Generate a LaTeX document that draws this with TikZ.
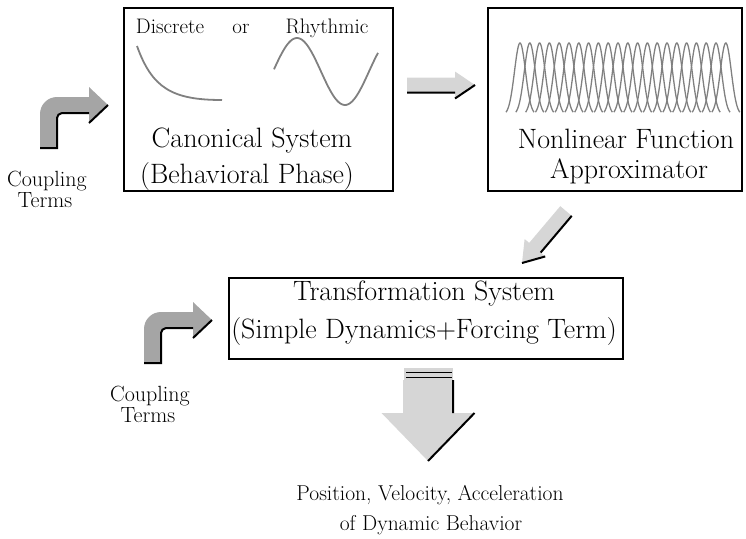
\documentclass[tikz,border=0pt]{standalone}
\usetikzlibrary{calc}
\definecolor{curvegray}{RGB}{128,128,128}
\definecolor{cplgray}{RGB}{165,165,165}
\definecolor{lightarrow}{RGB}{214,214,214}
\newcommand\blkarrow[8]{%
  \coordinate (ba-hb) at ($(#2)!#5!(#1)$);
  \coordinate (ba-t1) at ($(#1)!#3!#6:(#2)$);
  \coordinate (ba-t2) at ($(#1)!#3!#7:(#2)$);
  \coordinate (ba-b1) at ($(ba-hb)!#3!#6:(#2)$);
  \coordinate (ba-b2) at ($(ba-hb)!#3!#7:(#2)$);
  \coordinate (ba-h1) at ($(ba-hb)!#4!#6:(#2)$);
  \coordinate (ba-h2) at ($(ba-hb)!#4!#7:(#2)$);
  \fill[#8] (ba-t1) -- (ba-b1) -- (ba-h1) -- (#2) -- (ba-h2) -- (ba-b2) -- (ba-t2) -- cycle;
  \draw[shade] (ba-t1) -- (ba-b1) (ba-h1) -- (#2);
}
\begin{document}
\begin{tikzpicture}[x=1pt,y=-1pt,
  box/.style={draw=black, line width=2.4pt, inner sep=0pt, anchor=north west},
  lbl/.style={anchor=base, inner sep=0pt, font=\fontsize{28}{32}\selectfont},
  bottomlbl/.style={anchor=base, inner sep=0pt, font=\fontsize{21.5}{26}\selectfont},
  small/.style={anchor=base, inner sep=0pt, font=\fontsize{21}{24}\selectfont},
  cpl/.style={anchor=base, inner sep=0pt, font=\fontsize{22}{26}\selectfont},
  curve/.style={draw=curvegray, line width=1.8pt},
  gauss/.style={draw=curvegray, line width=1.3pt},
  shade/.style={draw=black, line width=2pt},
  coupling/.pic={
    \fill[cplgray] (0,0) -- (0,-34) .. controls (0,-43.4) and (7.6,-51) .. (17,-51)
      -- (49,-51) -- (49,-61) -- (68,-43) -- (49,-25) -- (49,-35) -- (22,-35)
      .. controls (19.2,-35) and (17,-32.2) .. (17,-30) -- (17,0) -- cycle;
    \draw[shade] (0,0) -- (17,0) -- (17,-30) .. controls (17,-32.2) and (19.2,-35) .. (22,-35)
      -- (49,-35) (49,-25) -- (68,-43);
  }
]
\useasboundingbox (0,0) rectangle (746,538);

% boxes
\node[box, minimum width=269pt, minimum height=183pt] (canon) at (123,7) {};
\node[box, minimum width=254pt, minimum height=183pt] (nonlin) at (487,7) {};
\node[box, minimum width=394pt, minimum height=81pt] (trans) at (228,277) {};

% canonical system contents
\node[small] (disc) at (170,33) {Discrete};
\node[small] (or) at (241,33) {or};
\node[small] (rhy) at (327,33) {Rhythmic};
\draw[curve] (137,46) .. controls (152,88) and (172,100) .. (222,100);
\draw[curve] plot[domain=274:378, samples=70] (\x, {71.5-33.5*sin((\x-273)*3.75)});
\node[lbl] (canon1) at (252,147) {Canonical System};
\node[lbl] (canon2) at (247,183) {(Behavioral Phase)};

% nonlinear function approximator contents
\foreach \i in {0,...,21} {
  \draw[gauss] plot[domain=-14:14, samples=40] ({520+9.8*\i+\x}, {115-72*exp(-(\x*\x)/60.5)});
}
\node[lbl] (nl1) at (626,148) {Nonlinear Function};
\node[lbl] (nl2) at (629,178) {Approximator};

% transformation system
\node[lbl] (tr1) at (424,300) {Transformation System};
\node[lbl] (tr2) at (424,338) {(Simple Dynamics+Forcing Term)};

% coupling terms
\pic at (40,148) {coupling};
\node[cpl] (cpA1) at (47,186) {Coupling};
\node[cpl] (cpA2) at (45,207) {Terms};
\pic at (144,363) {coupling};
\node[cpl] (cpB1) at (150,401) {Coupling};
\node[cpl] (cpB2) at (148,422) {Terms};

% connector arrows
\coordinate (r-tail) at (407,85);
\coordinate (r-tip) at (475,85);
\blkarrow{r-tail}{r-tip}{7.5pt}{13.5pt}{20pt}{-90}{90}{lightarrow}
\coordinate (d-tail) at (566,211);
\coordinate (d-tip) at (522,263);
\blkarrow{d-tail}{d-tip}{7.5pt}{13.5pt}{20pt}{90}{-90}{lightarrow}

% output arrow
\fill[lightarrow] (404,368) rectangle (453,381);
\draw[black, line width=1.8pt] (406,372.5) -- (452,372.5) (406,377.5) -- (452,377.5);
\coordinate (o-tail) at (428,380);
\coordinate (o-tip) at (428,461);
\blkarrow{o-tail}{o-tip}{25pt}{46.5pt}{48pt}{90}{-90}{lightarrow}

\node[bottomlbl] (out1) at (430,500) {Position, Velocity, Acceleration};
\node[bottomlbl] (out2) at (431,530) {of Dynamic Behavior};
\end{tikzpicture}
\end{document}
